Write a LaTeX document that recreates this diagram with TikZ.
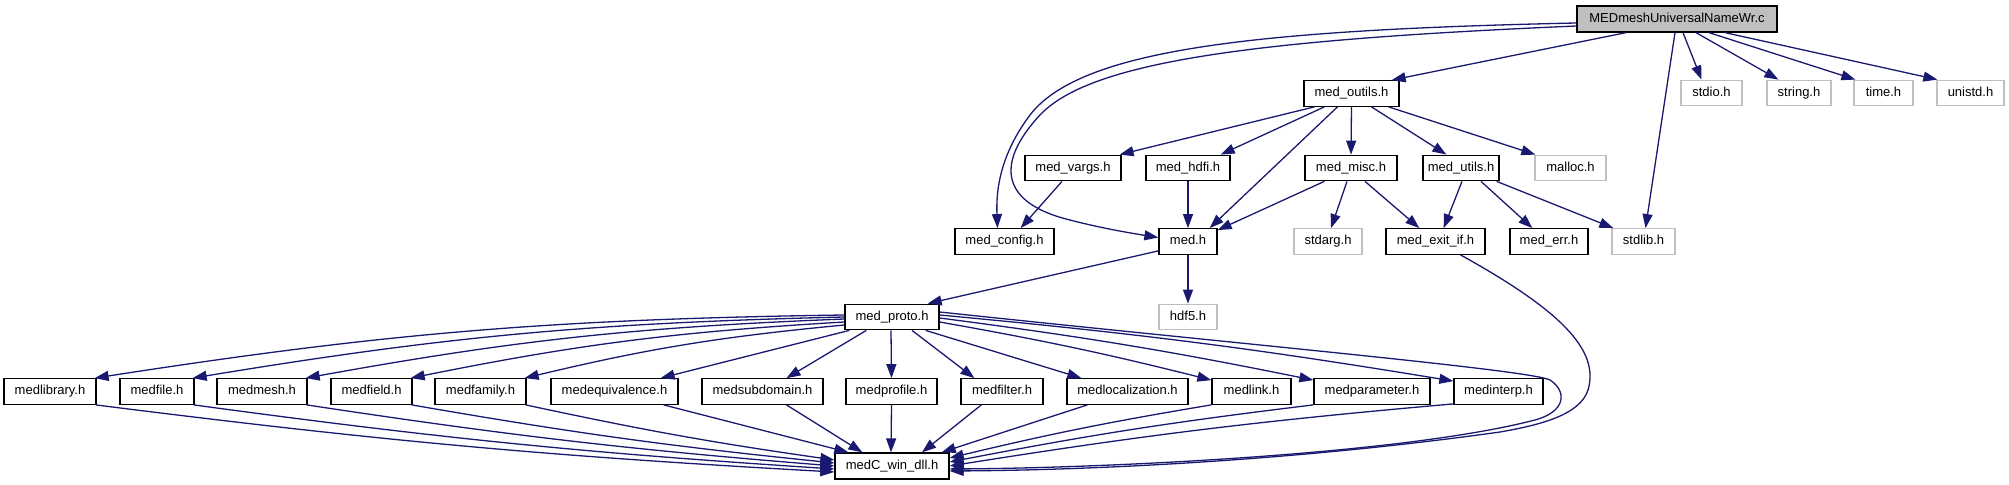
\documentclass[tikz,border=0pt]{standalone}
\usepackage{fontspec}
\setmainfont{Liberation Sans}
\usetikzlibrary{arrows.meta,calc}
\definecolor{edgeblue}{HTML}{191970}
\definecolor{extgray}{HTML}{BFBFBF}
\definecolor{topgray}{HTML}{BFBFBF}
\tikzset{
  box/.style={draw=black, line width=0.65pt, fill=white, inner sep=0pt,
    minimum height=12.75pt, text height=4.8pt, text depth=1.3pt,
    font=\fontsize{6.5}{7}\selectfont},
  ext/.style={box, draw=extgray},
  dep/.style={draw=edgeblue, line width=0.65pt, -{Triangle[length=7pt,width=5pt]}},
}
\begin{document}
\begin{tikzpicture}[x=0.5pt,y=-0.5pt]
\useasboundingbox (0,0) rectangle (2009,485);
% top
\node[box, fill=topgray, minimum width=100pt, minimum height=13pt] (T) at (1677,19) {MEDmeshUniversalNameWr.c};
% row 2
\node[box, minimum width=47.5pt] (outils) at (1351.5,93.5) {med\_outils.h};
\node[ext, minimum width=30.5pt] (stdio) at (1711.5,93) {stdio.h};
\node[ext, minimum width=32pt] (string) at (1799,93) {string.h};
\node[ext, minimum width=29.5pt] (time) at (1883.5,93) {time.h};
\node[ext, minimum width=33.5pt] (unistd) at (1970.5,93) {unistd.h};
% row 3
\node[box, minimum width=48pt] (vargs) at (1073,168) {med\_vargs.h};
\node[box, minimum width=42pt] (hdfi) at (1188,168) {med\_hdfi.h};
\node[box, minimum width=46pt] (misc) at (1351,168) {med\_misc.h};
\node[box, minimum width=38pt] (utils) at (1461,168) {med\_utils.h};
\node[ext, minimum width=35.5pt] (malloc) at (1570.5,168) {malloc.h};
% row 4
\node[box, minimum width=49.5pt] (config) at (1004.5,241.5) {med\_config.h};
\node[box, minimum width=29pt] (medh) at (1188,241.5) {med.h};
\node[ext, minimum width=34pt] (stdarg) at (1328,241.5) {stdarg.h};
\node[box, minimum width=49.5pt] (exitif) at (1435.5,241.5) {med\_exit\_if.h};
\node[box, minimum width=39pt] (err) at (1549,241.5) {med\_err.h};
\node[ext, minimum width=31.5pt] (stdlib) at (1643.5,241.5) {stdlib.h};
% row 5
\node[box, minimum width=47pt] (proto) at (892,317) {med\_proto.h};
\node[ext, minimum width=29pt] (hdf5) at (1188,317) {hdf5.h};
% row 6
\node[box, minimum width=46pt] (medlibrary) at (50,391.5) {medlibrary.h};
\node[box, minimum width=37pt] (medfile) at (157,391.5) {medfile.h};
\node[box, minimum width=45pt] (medmesh) at (262,391.5) {medmesh.h};
\node[box, minimum width=40.5pt] (medfield) at (371.5,391.5) {medfield.h};
\node[box, minimum width=45.5pt] (medfamily) at (480.5,391.5) {medfamily.h};
\node[box, minimum width=63.5pt] (medequivalence) at (614.5,391.5) {medequivalence.h};
\node[box, minimum width=60.5pt] (medsubdomain) at (762.5,391.5) {medsubdomain.h};
\node[box, minimum width=45.5pt] (medprofile) at (891.5,391.5) {medprofile.h};
\node[box, minimum width=41pt] (medfilter) at (1002,391.5) {medfilter.h};
\node[box, minimum width=60.5pt] (medlocalization) at (1127.5,391.5) {medlocalization.h};
\node[box, minimum width=39.5pt] (medlink) at (1251.5,391.5) {medlink.h};
\node[box, minimum width=58pt] (medparameter) at (1372,391.5) {medparameter.h};
\node[box, minimum width=44.5pt] (medinterp) at (1498.5,391.5) {medinterp.h};
% row 7
\node[box, minimum width=57pt, minimum height=13pt] (dll) at (892,466) {medC\_win\_dll.h};

% edges from top
\draw[dep] ($(T.south)+(-51,0)$) -- ($(outils.north east)+(-8,0)$);
\draw[dep] ($(T.south)+(6,0)$) -- ($(stdio.north)+(-10,0)$);
\draw[dep] ($(T.south)+(19,0)$) -- ($(string.north west)+(12,0)$);
\draw[dep] ($(T.south)+(32,0)$) -- ($(time.north west)+(2,0)$);
\draw[dep] ($(T.south)+(48,0)$) -- ($(unistd.north west)+(1,0)$);
\draw[dep] ($(T.south)+(-2,0)$) -- ($(stdlib.north)+(2,0)$);
\draw[dep] ($(T.west)+(0,4)$) .. controls (1250,30) and (1080,50) .. (1030,115)
  .. controls (1000,155) and (996,190) .. ($(config.north)+(-7,0)$);
\draw[dep] ($(T.west)+(0,7)$) .. controls (1250,40) and (1090,62) .. (1040,115)
  .. controls (1000,158) and (995,200) .. (1066,219)
  .. controls (1100,228) and (1130,233) .. ($(medh.west)+(0,-4)$);
% edges from med_outils.h
\draw[dep] ($(outils.south west)+(11,0)$) -- ($(vargs.north east)+(-2,0)$);
\draw[dep] ($(outils.south west)+(21,0)$) -- ($(hdfi.north east)+(-10,0)$);
\draw[dep] ($(outils.south)+(-14,0)$) -- ($(medh.north east)+(-8,0)$);
\draw[dep] (outils.south) -- (misc.north);
\draw[dep] ($(outils.south)+(20,0)$) -- ($(utils.north west)+(24,0)$);
\draw[dep] ($(outils.south east)+(-11,0)$) -- ($(malloc.north west)+(1,0)$);
% row 3 edges
\draw[dep] ($(vargs.south)+(-11,0)$) -- ($(config.north east)+(-34,0)$);
\draw[dep] (hdfi.south) -- (medh.north);
\draw[dep] ($(misc.south west)+(20,0)$) -- ($(medh.north east)+(0,2)$);
\draw[dep] ($(misc.south)+(-4,0)$) -- ($(stdarg.north)+(3,0)$);
\draw[dep] ($(misc.south)+(14,0)$) -- ($(exitif.north west)+(34,0)$);
\draw[dep] ($(utils.south)+(1,0)$) -- ($(exitif.north east)+(-42,0)$);
\draw[dep] ($(utils.south)+(20,0)$) -- ($(err.north west)+(23,0)$);
\draw[dep] ($(utils.south east)+(-3,0)$) -- ($(stdlib.north west)+(2,0)$);
% med.h
\draw[dep] ($(medh.south west)+(0,-4)$) -- ($(proto.north east)+(-12,0)$);
\draw[dep] (medh.south) -- (hdf5.north);
% med_exit_if.h -> dll
\draw[dep] ($(exitif.south)+(25,0)$) .. controls (1560,310) and (1600,350) .. (1588,390)
  .. controls (1580,415) and (1540,425) .. (1500,432)
  .. controls (1300,460) and (1100,470) .. ($(dll.east)+(0,5)$);
% med_proto.h fan
\draw[dep] ($(proto.west)+(0,-2)$) to[bend right=4] ($(medlibrary.north east)+(-2,0)$);
\draw[dep] ($(proto.west)+(0,0)$) to[bend right=4] ($(medfile.north east)+(-2,0)$);
\draw[dep] ($(proto.west)+(0,2)$) to[bend right=4] ($(medmesh.north east)+(-2,0)$);
\draw[dep] ($(proto.west)+(0,5)$) to[bend right=4] ($(medfield.north east)+(-2,0)$);
\draw[dep] ($(proto.west)+(0,8)$) to[bend right=4] ($(medfamily.north east)+(-2,0)$);
\draw[dep] ($(proto.south west)+(5,0)$) -- ($(medequivalence.north east)+(-18,0)$);
\draw[dep] ($(proto.south west)+(22,0)$) -- ($(medsubdomain.north)+(24,0)$);
\draw[dep] ($(proto.south)+(-1,0)$) -- (medprofile.north);
\draw[dep] ($(proto.south)+(20,0)$) -- ($(medfilter.north west)+(14,0)$);
\draw[dep] ($(proto.south east)+(-14,0)$) -- ($(medlocalization.north west)+(15,0)$);
\draw[dep] ($(proto.east)+(0,5)$) to[bend left=2] ($(medlink.north west)+(0,2)$);
\draw[dep] ($(proto.east)+(0,1)$) to[bend left=2] ($(medparameter.north west)+(0,2)$);
\draw[dep] ($(proto.east)+(0,-2)$) to[bend left=2] ($(medinterp.north west)+(0,3)$);
\draw[dep] ($(proto.east)+(0,-5)$) .. controls (1250,345) and (1530,370) .. (1550,380)
  .. controls (1568,392) and (1565,412) .. (1535,420)
  .. controls (1400,455) and (1100,468) .. ($(dll.east)+(0,3)$);
% row 6 -> dll
\draw[dep] ($(medlibrary.south east)+(-1,0)$) to[bend right=2] ($(dll.west)+(0,6)$);
\draw[dep] ($(medfile.south east)+(-1,0)$) to[bend right=2] ($(dll.west)+(0,3)$);
\draw[dep] ($(medmesh.south east)+(-1,0)$) to[bend right=2] ($(dll.west)+(0,0)$);
\draw[dep] ($(medfield.south east)+(-1,0)$) to[bend right=2] ($(dll.west)+(0,-3)$);
\draw[dep] ($(medfamily.south east)+(-1,0)$) to[bend right=2] ($(dll.west)+(0,-6)$);
\draw[dep] ($(medequivalence.south east)+(-15,0)$) -- ($(dll.north west)+(14,0)$);
\draw[dep] ($(medsubdomain.south)+(24,0)$) -- ($(dll.north west)+(28,0)$);
\draw[dep] (medprofile.south) -- ($(dll.north)+(-1,0)$);
\draw[dep] ($(medfilter.south west)+(21,0)$) -- ($(dll.north)+(30,0)$);
\draw[dep] ($(medlocalization.south west)+(21,0)$) -- ($(dll.north east)+(-8,0)$);
\draw[dep] (medlink.south west) to[bend right=2] ($(dll.east)+(0,-8)$);
\draw[dep] (medparameter.south west) to[bend right=2] ($(dll.east)+(0,-4)$);
\draw[dep] ($(medinterp.south west)+(0,-1)$) to[bend right=2] ($(dll.east)+(0,0)$);
\end{tikzpicture}
\end{document}
